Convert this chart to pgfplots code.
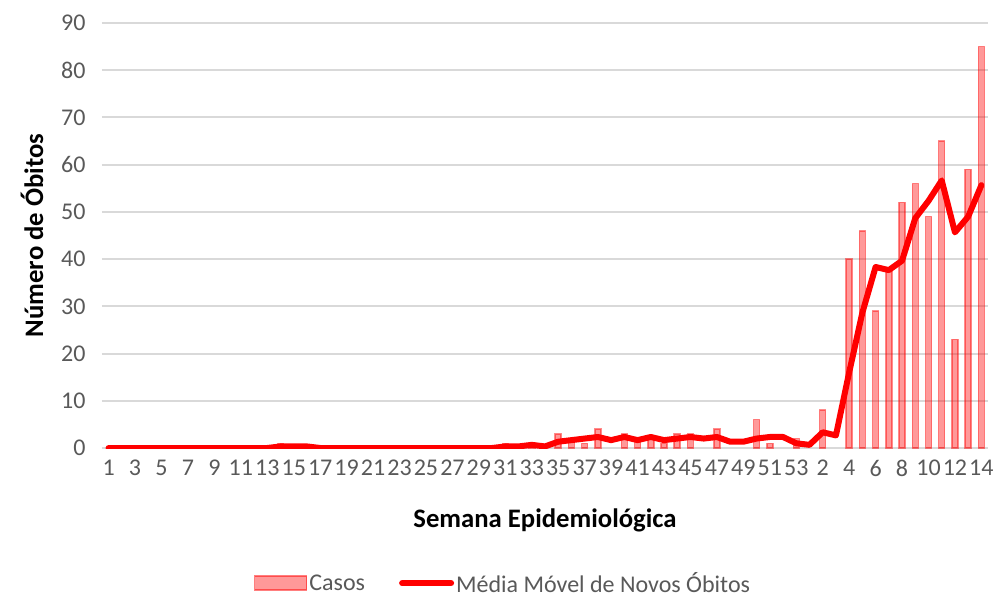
\documentclass[border=0pt]{standalone}
\usepackage{pgfplots}
\pgfplotsset{compat=1.18}
\usepackage{pgfplotstable}
\usepackage{fontspec}
\setmainfont{Carlito}
\definecolor{tickgray}{HTML}{595959}
\definecolor{gridgray}{HTML}{D9D9D9}

\pgfplotstableread{
idx casos media
0 0 0
1 0 0
2 0 0
3 0 0
4 0 0
5 0 0
6 0 0
7 0 0
8 0 0
9 0 0
10 0 0
11 0 0
12 0 0
13 1 0.333
14 0 0.333
15 0 0.333
16 0 0
17 0 0
18 0 0
19 0 0
20 0 0
21 0 0
22 0 0
23 0 0
24 0 0
25 0 0
26 0 0
27 0 0
28 0 0
29 0 0
30 1 0.333
31 0 0.333
32 1 0.667
33 0 0.333
34 3 1.333
35 2 1.667
36 1 2
37 4 2.333
38 0 1.667
39 3 2.333
40 2 1.667
41 2 2.333
42 1 1.667
43 3 2
44 3 2.333
45 0 2
46 4 2.333
47 0 1.333
48 0 1.333
49 6 2
50 1 2.333
51 0 2.333
52 2 1
53 0 0.667
54 8 3.333
55 0 2.667
56 40 16
57 46 28.667
58 29 38.333
59 38 37.667
60 52 39.667
61 56 48.667
62 49 52.333
63 65 56.667
64 23 45.667
65 59 49
66 85 55.667
}\data

\begin{document}
\begin{tikzpicture}
\begin{axis}[
  scale only axis, width=886bp, height=425bp,
  xmin=-0.5, xmax=66.5, ymin=0, ymax=90,
  ytick={0,10,...,90},
  xtick={0,2,...,66},
  xticklabels={1,3,5,7,9,11,13,15,17,19,21,23,25,27,29,31,33,35,37,39,41,43,45,47,49,51,53,2,4,6,8,10,12,14},
  axis line style={draw=none},
  major tick length=0pt,
  ymajorgrids, grid style={draw=gridgray, line width=2bp},
  /pgf/number format/assume math mode=true,
  tick label style={font=\fontsize{24bp}{28bp}\selectfont, text=tickgray},
  yticklabel style={anchor=east, xshift=-13bp},
  xticklabel style={anchor=north, yshift=-12bp, inner sep=0pt},
  every axis y label/.style={at={(axis description cs:-0.079,0.5)}, rotate=90, anchor=center},
  every axis x label/.style={at={(axis description cs:0.5,-0.1694)}, anchor=center},
  label style={font=\fontsize{26.7bp}{30bp}\selectfont\bfseries, text=black},
  ylabel={Número de Óbitos},
  xlabel={Semana Epidemiológica},
  legend style={draw=none, fill=none, at={(axis description cs:0.4526,-0.318)}, anchor=center,
    font=\fontsize{24bp}{28bp}\selectfont, text=tickgray,
    /tikz/every even column/.append style={column sep=32bp}},
  legend columns=2,
  legend cell align=left,
  unbounded coords=discard,
]
\addplot[ybar, bar width=6bp, fill=red, fill opacity=0.4, draw=red, draw opacity=0.45, line width=1.5bp,
  y filter/.expression={y==0 ? nan : y},
  legend image code/.code={\draw[fill=red, fill opacity=0.4, draw=red, draw opacity=0.5, line width=1.5bp] (0bp,-7bp) rectangle (52bp,7bp);}]
  table[x=idx, y=casos]{\data};
\addlegendentry{Casos}
\addplot[red, line width=6bp, line join=round, line cap=round, mark=none,
  legend image code/.code={\draw[red, line width=6bp, line cap=round] (3bp,0bp) -- (52bp,0bp);}]
  table[x=idx, y=media]{\data};
\addlegendentry{Média Móvel de Novos Óbitos}
\end{axis}
\pgfresetboundingbox
\path[use as bounding box] (-102bp,-152bp) rectangle (893bp,448bp);
\end{tikzpicture}
\end{document}
